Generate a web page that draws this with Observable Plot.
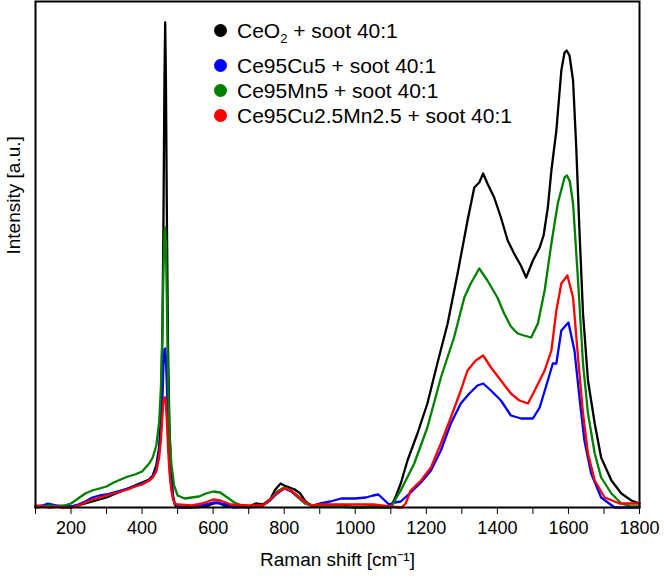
<!DOCTYPE html>
<html>
<head>
<meta charset="utf-8">
<script src="https://cdn.jsdelivr.net/npm/d3@7"></script>
<script src="https://cdn.jsdelivr.net/npm/@observablehq/plot@0.6"></script>
<style>
  html, body { margin: 0; padding: 0; background: #fff; }
  #wrap { position: relative; width: 664px; height: 579px; font-family: "Liberation Sans", Arial, sans-serif; }
  #legend { position: absolute; left: 214px; top: 18px; font-size: 21px; color: #000; }
  .row { position: relative; height: 25px; line-height: 25px; padding-left: 23px; white-space: nowrap; }
  .row .dot { position: absolute; left: 0px; top: 6px; width: 13px; height: 13px; border-radius: 50%; }
  .row:first-child { margin-bottom: 10px; }
  sub { font-size: 13px; vertical-align: -5px; line-height: 0; }
</style>
</head>
<body>
<div id="wrap"></div>
<script>
// Series names and colours
const seriesNames = ["CeO2 + soot 40:1", "Ce95Cu5 + soot 40:1", "Ce95Mn5 + soot 40:1", "Ce95Cu2.5Mn2.5 + soot 40:1"];
const seriesColors = ["#000000", "#0000ff", "#008000", "#ff0000"];
const xTicks = [100,200,300,400,500,600,700,800,900,1000,1100,1200,1300,1400,1500,1600,1700,1800];

// [Raman shift cm-1, intensity a.u.]
const ceo2 = [[100,0],[120,1],[140,3],[160,1],[180,0],[200,1],[220,2],[240,4],[260,6],[280,8],[300,10],[320,13],[340,16],[360,19],[380,22],[400,25],[420,28],[430,32],[440,42],[448,60],[453,95],[457,170],[460,280],[463,430],[465,485],[467,430],[470,280],[473,160],[477,80],[482,35],[487,12],[492,3],[500,0],[540,0],[580,1],[600,4],[615,5],[630,2],[660,0],[700,1],[720,4],[740,3],[760,8],[775,18],[790,24],[800,22],[815,20],[830,18],[845,14],[860,6],[880,1],[900,2],[920,3],[940,1],[960,2],[980,1],[1000,0],[1050,1],[1100,0],[1115,12],[1128,24],[1147,47],[1175,74],[1203,104],[1231,144],[1260,184],[1288,234],[1316,287],[1335,320],[1349,325],[1360,334],[1372,324],[1391,310],[1410,290],[1429,267],[1447,254],[1466,242],[1481,230],[1500,247],[1519,260],[1530,272],[1542,300],[1552,337],[1566,377],[1580,437],[1589,455],[1595,457],[1603,452],[1613,427],[1622,360],[1631,277],[1641,194],[1655,127],[1674,84],[1692,50],[1721,27],[1749,14],[1777,7],[1800,4]];
const cu5 = [[100,1],[120,2],[135,4],[160,2],[180,1],[200,1],[220,3],[240,6],[260,10],[280,12],[300,13],[320,15],[340,17],[360,19],[380,21],[400,24],[420,27],[430,31],[440,38],[448,55],[453,75],[457,105],[460,140],[463,158],[465,159],[467,150],[470,120],[473,80],[477,45],[482,22],[487,10],[492,4],[500,2],[540,1],[580,3],[600,5],[620,4],[650,2],[700,0],[740,2],[760,7],[780,14],[800,19],[820,16],[840,10],[860,4],[880,2],[900,4],[930,6],[960,9],[1000,9],[1030,10],[1050,12],[1065,13],[1080,8],[1095,3],[1110,5],[1128,6],[1156,15],[1185,25],[1213,37],[1241,57],[1269,84],[1297,104],[1321,114],[1344,122],[1360,124],[1382,117],[1410,107],[1438,92],[1467,89],[1500,89],[1519,100],[1542,127],[1556,144],[1566,144],[1580,177],[1600,185],[1617,157],[1631,110],[1645,67],[1664,34],[1692,10],[1730,0],[1800,0]];
const mn5 = [[100,1],[120,1],[140,2],[160,1],[180,2],[200,4],[220,9],[240,14],[260,17],[280,19],[300,21],[320,25],[340,28],[360,31],[380,33],[400,36],[420,44],[430,50],[440,62],[448,85],[453,120],[457,175],[460,235],[463,275],[465,280],[467,265],[470,200],[473,130],[477,75],[482,45],[490,22],[500,12],[520,9],[540,10],[560,11],[580,14],[600,16],[620,15],[640,10],[660,5],[680,2],[700,1],[740,2],[760,8],[780,16],[800,20],[820,17],[840,10],[860,4],[880,1],[900,1],[950,1],[1000,0],[1050,0],[1095,0],[1105,3],[1128,17],[1166,44],[1203,80],[1241,130],[1278,170],[1307,210],[1325,224],[1349,239],[1372,227],[1400,210],[1419,194],[1438,181],[1457,174],[1475,172],[1495,170],[1514,184],[1533,217],[1552,264],[1570,304],[1589,330],[1596,332],[1604,326],[1613,304],[1627,227],[1641,144],[1655,94],[1674,54],[1692,30],[1721,14],[1749,4],[1777,1],[1800,1]];
const cu25mn25 = [[100,2],[120,1],[140,0],[160,1],[180,0],[200,0],[220,2],[240,5],[260,8],[280,10],[300,12],[320,14],[340,16],[360,18],[380,21],[400,23],[420,27],[430,30],[440,36],[448,50],[453,68],[457,90],[460,106],[463,110],[465,110],[467,103],[470,85],[473,60],[477,35],[482,18],[487,8],[492,4],[500,3],[540,2],[570,4],[600,8],[620,7],[650,3],[700,2],[740,2],[760,8],[780,15],[800,19],[820,17],[840,11],[860,5],[880,2],[900,3],[950,3],[1000,3],[1050,3],[1100,1],[1130,0],[1142,4],[1156,17],[1185,27],[1213,40],[1241,64],[1269,90],[1297,117],[1316,137],[1339,147],[1360,152],[1382,140],[1410,127],[1438,114],[1462,107],[1486,104],[1505,117],[1533,137],[1552,157],[1566,197],[1580,224],[1597,232],[1613,210],[1627,150],[1641,94],[1655,54],[1674,27],[1702,10],[1744,4],[1800,4]];

const allSeries = [ceo2, cu5, mn5, cu25mn25];
const rows = allSeries.flatMap((s, i) => s.map(([x, y]) => ({x, y, name: seriesNames[i]})));

const chart = Plot.plot({
  width: 664,
  height: 579,
  marginLeft: 35,
  marginRight: 25,
  marginTop: 1,
  marginBottom: 72,
  style: {fontFamily: "Liberation Sans, Arial, sans-serif", fontSize: "18px", color: "#000", background: "#fff"},
  x: {domain: [100, 1800]},
  y: {domain: [0, 506], axis: null},
  color: {domain: seriesNames, range: seriesColors},
  marks: [
    Plot.line(rows, {x: "x", y: "y", z: "name", stroke: "name", strokeWidth: 2.3, strokeLinejoin: "round"}),
    Plot.frame({stroke: "#000", strokeWidth: 2}),
    Plot.axisX({ticks: xTicks, tickFormat: d => d % 200 === 0 ? String(d) : "", tickSize: 7, tickPadding: 7, tickWidth: 1.6, stroke: "#000", fontSize: 18, label: null}),
    Plot.text(["Raman shift [cm⁻¹]"], {frameAnchor: "bottom", dy: 58, fontSize: 19, fill: "#000"}),
    Plot.text(["Intensity [a.u.]"], {frameAnchor: "left", dx: -22, rotate: -90, fontSize: 19, fill: "#000"})
  ]
});

const wrap = document.getElementById("wrap");
wrap.appendChild(chart);

const legend = document.createElement("div");
legend.id = "legend";
const labelsHtml = ["CeO<sub>2</sub> + soot 40:1", seriesNames[1], seriesNames[2], seriesNames[3]];
labelsHtml.forEach((h, i) => {
  const r = document.createElement("div");
  r.className = "row";
  r.innerHTML = `<span class="dot" style="background:${seriesColors[i]}"></span>${h}`;
  legend.appendChild(r);
});
wrap.appendChild(legend);
</script>
</body>
</html>
